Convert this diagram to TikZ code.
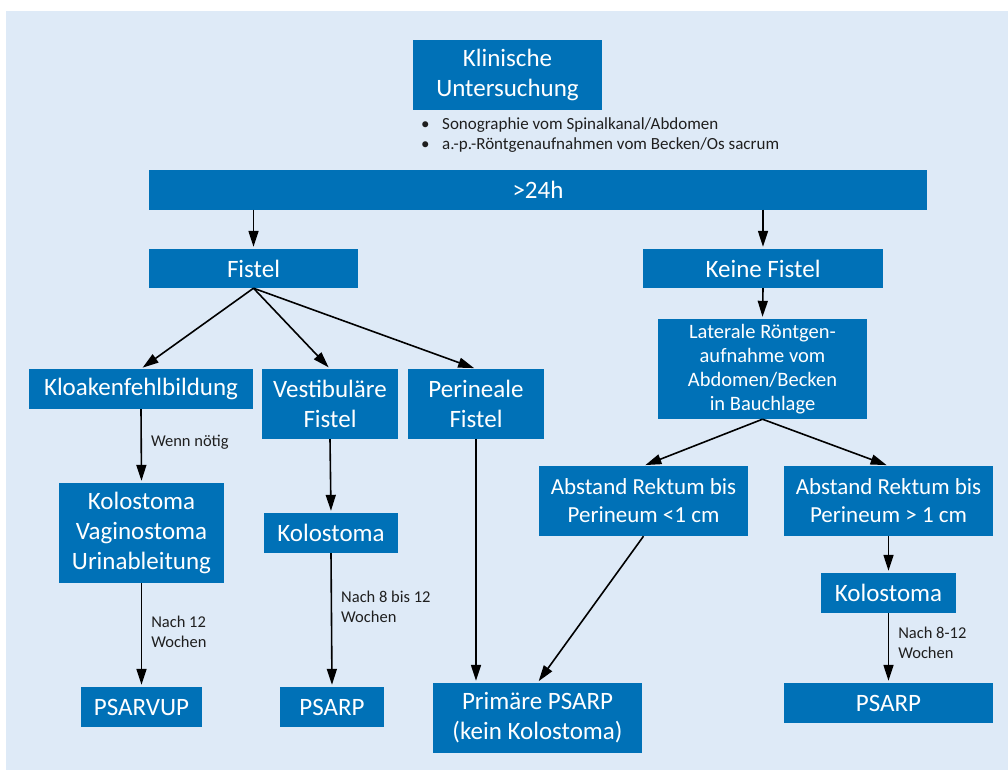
\documentclass[tikz,border=0pt]{standalone}
\usepackage{fontspec}
\setmainfont{Carlito}
\usetikzlibrary{arrows.meta}
\definecolor{boxblue}{RGB}{0,113,183}
\definecolor{paleblue}{RGB}{222,234,247}

\begin{document}
\begin{tikzpicture}[x=1pt,y=-1pt,
    box/.style={fill=boxblue,text=white,inner sep=0pt,align=center,font=\fontsize{25}{30}\selectfont},
    midbox/.style={box,font=\fontsize{23}{28}\selectfont},
    smallbox/.style={box,font=\fontsize{20.5}{24}\selectfont},
    arr/.style={-{Triangle[length=16pt,width=10pt]},line width=1.6pt,shorten >=2pt},
    lbl/.style={right,align=left,inner sep=0pt,xshift=9pt,font=\fontsize{16.5}{20}\selectfont,text=black!88}]
    \useasboundingbox (0,0) rectangle (1008,772);
    \fill[paleblue] (6,11) rectangle (1008,770);

    \node[box,minimum width=189pt,minimum height=70pt] (klin) at (507.5,75) {Klinische\\Untersuchung};
    \node[anchor=west,align=left,inner sep=0pt,font=\fontsize{17}{20}\selectfont,text=black!88] (tests) at (421,135)
      {\makebox[21pt][l]{\textbullet}Sonographie vom Spinalkanal/Abdomen\\
       \makebox[21pt][l]{\textbullet}a.-p.-Röntgenaufnahmen vom Becken/Os sacrum};
    \node[box,minimum width=778pt,minimum height=40pt] (bar) at (538,189.5) {>24h};

    \node[box,minimum width=209pt,minimum height=39pt] (fistel) at (253.5,268.5) {Fistel};
    \node[box,minimum width=240pt,minimum height=39pt] (keine) at (763,268.5) {Keine Fistel};
    \node[smallbox,minimum width=209pt,minimum height=100pt] (lat) at (762.5,369) {Laterale Röntgen-\\aufnahme vom\\Abdomen/Becken\\in Bauchlage};

    \node[box,minimum width=224pt,minimum height=40pt] (kloake) at (141,389) {Kloakenfehlbildung};
    \node[box,minimum width=136pt,minimum height=70pt] (vest) at (330,404) {Vestibuläre\\Fistel};
    \node[box,minimum width=136pt,minimum height=70pt] (peri) at (476,404) {Perineale\\Fistel};
    \node[midbox,minimum width=209pt,minimum height=70pt] (nah) at (643.5,501) {Abstand Rektum bis\\Perineum <1 cm};
    \node[midbox,minimum width=209pt,minimum height=70pt] (fern) at (888.5,501) {Abstand Rektum bis\\Perineum > 1 cm};

    \node[box,minimum width=165pt,minimum height=100pt] (kvu) at (141.5,533) {Kolostoma\\Vaginostoma\\Urinableitung};
    \node[box,minimum width=134pt,minimum height=40pt] (kolvest) at (331,533) {Kolostoma};
    \node[box,minimum width=135pt,minimum height=40pt] (kolfern) at (888.5,593) {Kolostoma};

    \node[box,minimum width=121pt,minimum height=40pt] (psarvup) at (141.5,707) {PSARVUP};
    \node[box,minimum width=104pt,minimum height=40pt] (psarpvest) at (332,707) {PSARP};
    \node[box,minimum width=209pt,minimum height=70pt] (prim) at (537.5,718) {Primäre PSARP\\(kein Kolostoma)};
    \node[box,minimum width=209pt,minimum height=40pt] (psarpfern) at (888.5,703) {PSARP};

    \draw[arr] (fistel |- bar.south) -- (fistel.north);
    \draw[arr] (keine |- bar.south) -- (keine.north);
    \draw[arr] (fistel.south) -- (kloake.north);
    \draw[arr] (fistel.south) -- (vest.north);
    \draw[arr] (fistel.south) -- (peri.north);
    \draw[arr] (keine.south) -- (lat.north);
    \draw[arr] (lat.south) -- (nah.north);
    \draw[arr] (lat.south) -- (fern.north);

    \draw[arr] (kloake.south) -- (kvu.north) node[lbl,pos=0.45] {Wenn nötig};
    \draw[arr] (kvu.south) -- (psarvup.north) node[lbl,pos=0.47] {Nach 12\\Wochen};
    \draw[arr] (vest.south) -- (kolvest.north);
    \draw[arr] (kolvest.south) -- (psarpvest.north) node[lbl,pos=0.4] {Nach 8 bis 12\\Wochen};
    \draw[arr] (peri.south) -- (peri.south |- prim.north);
    \draw[arr] (nah.south) -- (prim.north);
    \draw[arr] (fern.south) -- (kolfern.north);
    \draw[arr] (kolfern.south) -- (psarpfern.north) node[lbl,pos=0.42] {Nach 8-12\\Wochen};
\end{tikzpicture}
\end{document}
